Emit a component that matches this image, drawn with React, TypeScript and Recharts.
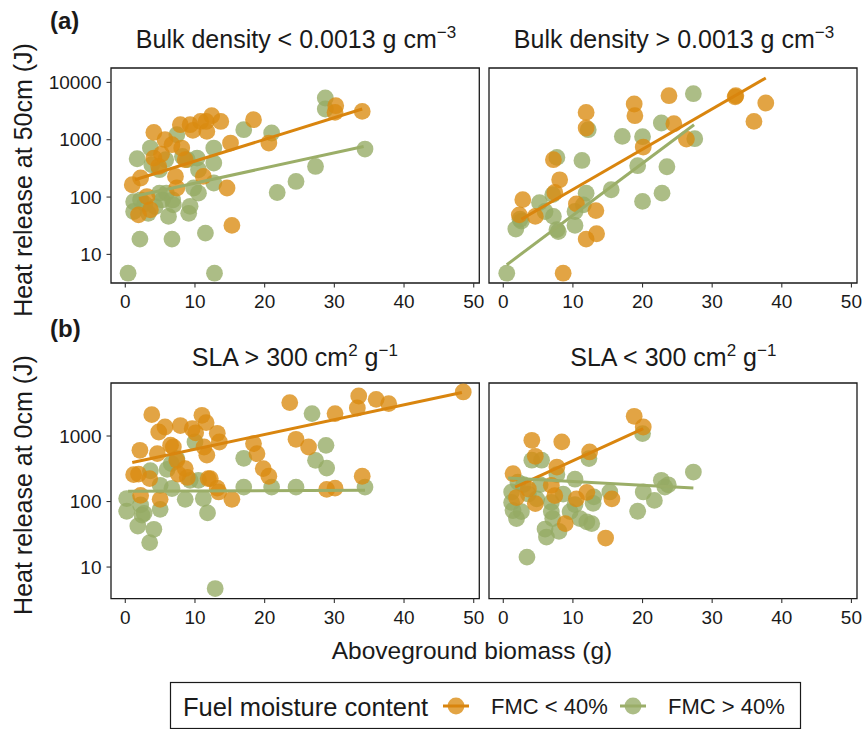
import React from 'react';
import { ScatterChart, Scatter, XAxis, YAxis, ReferenceArea } from 'recharts';

const FONT = '"Liberation Sans", Arial, Helvetica, sans-serif';
const INK = '#1a1a1a';

// ---------- shared axes ----------
const xTicks = [0, 10, 20, 30, 40, 50];
const xDomain: [number, number] = [-2.05, 50.8];
const yTicksTop = [10, 100, 1000, 10000];
const yDomainTop: [number, number] = [3.17, 17820];
const yTicksBottom = [10, 100, 1000];
const yDomainBottom: [number, number] = [3.3, 6442];

// ---------- series ----------
const seriesNames = ['FMC < 40%', 'FMC > 40%'];
const pointColors = ['#DA8A10', '#95AA64'];
const lineColors = ['#D9850E', '#9BAE68'];

// (a) Bulk density < 0.0013 g cm-3
const aLowOrangeX = [15.3, 14.6, 34.0, 30.2, 30.1, 20.6, 18.4, 15.1, 12.4, 13.7, 11.7, 11.6, 10.8, 9.7, 9.3, 7.9, 4.1, 5.7, 6.7, 8.1, 8.6, 4.1, 4.8, 7.2, 7.4, 11.2, 1.0, 2.2, 1.9, 3.1, 3.6, 5.2];
const aLowOrangeY = [32, 144, 3118, 3917, 2992, 875, 2234, 875, 2625, 2083, 1397, 2083, 2083, 1453, 1828, 1828, 1340, 1000, 818, 716, 448, 479, 342, 229, 144, 229, 164, 215, 49, 102, 60, 560];
const aLowGreenX = [0.4, 12.8, 2.1, 6.7, 11.5, 21.8, 24.5, 27.3, 34.4, 28.7, 28.7, 21.0, 17.0, 7.4, 1.7, 12.7, 12.7, 10.3, 10.5, 12.7, 9.8, 10.5, 9.3, 9.1, 6.2, 6.9, 1.2, 3.6, 3.8, 4.9, 5.8, 8.2, 8.9, 4.9, 5.3, 4.3, 2.2, 5.9, 3.3, 2.8, 1.2, 6.8];
const aLowGreenY = [4.7, 4.7, 18.5, 18.5, 23.5, 120, 187, 342, 688, 5345, 3435, 1310, 1496, 1222, 466, 716, 392, 479, 299, 176, 144, 117, 69, 52, 46, 73, 56, 716, 366, 300, 448, 510, 448, 117, 89, 68, 89, 117, 52, 76, 83, 89];
const aLowOrangeLineX = [1.4, 34.0];
const aLowOrangeLineY = [200, 3435];
const aLowGreenLineX = [1.2, 34.2];
const aLowGreenLineY = [102, 764];

// (a) Bulk density > 0.0013 g cm-3
const aHighOrangeX = [8.6, 2.8, 2.3, 4.6, 7.4, 8.1, 7.2, 10.5, 13.3, 11.9, 13.4, 11.9, 11.9, 18.8, 18.9, 20.1, 23.8, 24.5, 26.3, 33.4, 33.3, 36.0, 37.7];
const aHighOrangeY = [4.7, 90, 49, 46, 120, 200, 448, 76, 58, 18.5, 22.9, 2992, 1600, 4200, 2625, 745, 5860, 1900, 1025, 5860, 5600, 2085, 4370];
const aHighGreenX = [0.5, 1.8, 2.4, 2.6, 5.2, 6.0, 7.2, 7.1, 7.7, 7.7, 7.9, 10.3, 10.3, 11.3, 11.9, 11.5, 12.2, 15.5, 17.1, 20.0, 19.3, 20.0, 22.7, 23.5, 22.8, 27.3, 27.5];
const aHighGreenY = [4.7, 27.7, 41, 38, 80, 56, 46, 110, 491, 27, 25, 56, 32, 435, 117, 73, 1496, 134, 1142, 1128, 352, 84, 1956, 338, 117, 6350, 1041];
const aHighOrangeLineX = [2.6, 37.7];
const aHighOrangeLineY = [41, 11900];
const aHighGreenLineX = [0.5, 27.4];
const aHighGreenLineY = [6.6, 1828];

// (b) SLA > 300 cm2 g-1
const bHighOrangeX = [48.5, 23.6, 33.5, 33.3, 36.0, 37.8, 30.1, 24.5, 26.3, 18.4, 18.9, 19.8, 20.6, 34.0, 28.9, 30.1, 15.3, 13.4, 13.2, 12.2, 3.8, 4.8, 5.7, 7.9, 9.6, 10.1, 11.0, 11.6, 13.2, 13.5, 2.1, 4.6, 6.5, 6.9, 11.3, 11.7, 7.4, 8.6, 1.2, 1.9, 3.5, 7.6, 8.9, 11.9, 2.2, 5.0];
const bHighOrangeY = [4700, 3236, 4083, 2675, 3630, 3126, 2200, 891, 680, 766, 538, 318, 243, 243, 153, 160, 108, 140, 160, 224, 2120, 1151, 1372, 1445, 1290, 1120, 2070, 1600, 1100, 810, 605, 538, 725, 680, 680, 510, 425, 318, 257, 262, 224, 262, 233, 224, 124, 108];
const bHighGreenX = [12.9, 3.5, 4.1, 1.8, 0.2, 0.2, 2.2, 2.4, 2.7, 5.0, 8.6, 11.2, 11.8, 5.0, 6.7, 6.0, 3.6, 7.4, 6.6, 9.3, 10.5, 10.0, 17.0, 21.0, 24.5, 34.4, 17.0, 26.8, 28.8, 27.3, 28.9];
const bHighGreenY = [4.7, 23.6, 37.7, 42.3, 71, 111, 89, 62, 66, 76, 108, 111, 67, 177, 158, 309, 295, 452, 380, 211, 211, 810, 166, 166, 166, 166, 457, 2200, 721, 425, 324];
const bHighOrangeLineX = [1.0, 48.3];
const bHighOrangeLineY = [393, 4600];
const bHighGreenLineX = [0.4, 34.4];
const bHighGreenLineY = [143, 148];

// (b) SLA < 300 cm2 g-1
const bLowOrangeX = [18.8, 20.1, 4.1, 8.4, 12.4, 7.7, 4.6, 1.4, 6.9, 7.4, 3.6, 1.9, 4.6, 10.5, 12.0, 15.6, 8.9, 14.7];
const bLowOrangeY = [2000, 1372, 860, 815, 571, 336, 490, 267, 177, 123, 155, 115, 93, 110, 138, 110, 46, 27.7];
const bLowGreenX = [3.4, 6.2, 6.0, 8.0, 1.9, 1.4, 1.2, 6.9, 7.1, 9.6, 11.0, 12.7, 12.0, 19.3, 21.7, 20.1, 22.7, 23.2, 23.7, 27.3, 20.0, 12.3, 4.1, 5.5, 7.7, 10.3, 15.3, 13.0, 12.9, 2.9, 2.1, 3.6, 5.3, 4.8, 8.6, 6.9, 1.2, 2.6, 10.3];
const bLowGreenY = [14.2, 28.7, 38, 35, 55, 73, 97, 70, 55, 70, 55, 46, 49, 71, 104, 140, 211, 166, 180, 282, 1088, 452, 427, 427, 258, 219, 140, 118, 94, 181, 198, 130, 181, 110, 130, 97, 140, 70, 90];
const bLowOrangeLineX = [1.7, 20.1];
const bLowOrangeLineY = [166, 1297];
const bLowGreenLineX = [0.7, 27.3];
const bLowGreenLineY = [228, 161];

type Pt = { x: number; y: number };
const pts = (xs: number[], ys: number[]): Pt[] => xs.map((x, i) => ({ x, y: ys[i] }));

type PanelDef = {
  left: number; top: number; w: number; h: number; showY: boolean;
  yDomain: [number, number]; yTicks: number[];
  orange: Pt[]; green: Pt[]; orangeLine: Pt[]; greenLine: Pt[];
};

const dot = (color: string) => (p: any) => (
  <circle cx={p.cx} cy={p.cy} r={8.4} fill={color} fillOpacity={0.78} />
);
const noDot = () => <g />;

function Panel({ d }: { d: PanelDef }) {
  const yw = d.showY ? 80 : 0;
  const m = { top: 10, right: 10, bottom: 0, left: 10 };
  const xh = 45;
  const width = m.left + yw + d.w + m.right;
  const height = m.top + d.h + xh;
  const tickStyle = { fontSize: 19, fill: INK, fontFamily: FONT };
  return (
    <div style={{ position: 'absolute', left: d.left - yw - m.left, top: d.top - m.top }}>
      <ScatterChart width={width} height={height} margin={m}>
        <XAxis type="number" dataKey="x" domain={xDomain} allowDataOverflow ticks={xTicks} interval={0}
          axisLine={false} tickLine={{ stroke: '#333', strokeWidth: 1.1 }} tickSize={4.5} tickMargin={7}
          height={xh} tick={tickStyle} />
        <YAxis type="number" dataKey="y" scale="log" domain={d.yDomain} allowDataOverflow ticks={d.yTicks}
          interval={0} hide={!d.showY} width={yw} axisLine={false}
          tickLine={{ stroke: '#333', strokeWidth: 1.1 }} tickSize={4.5} tickMargin={5} tick={tickStyle} />
        <Scatter data={d.green} shape={dot(pointColors[1])} isAnimationActive={false} />
        <Scatter data={d.orange} shape={dot(pointColors[0])} isAnimationActive={false} />
        <Scatter data={d.orangeLine} line={{ stroke: lineColors[0], strokeWidth: 3 }} shape={noDot} isAnimationActive={false} />
        <Scatter data={d.greenLine} line={{ stroke: lineColors[1], strokeWidth: 3 }} shape={noDot} isAnimationActive={false} />
        <ReferenceArea x1={xDomain[0]} x2={xDomain[1]} y1={d.yDomain[0]} y2={d.yDomain[1]}
          fill="none" fillOpacity={0} stroke={INK} strokeWidth={1.3} ifOverflow="visible" />
      </ScatterChart>
    </div>
  );
}

const panels: PanelDef[] = [
  { left: 110.7, top: 68.3, w: 368.3, h: 215, showY: true, yDomain: yDomainTop, yTicks: yTicksTop,
    orange: pts(aLowOrangeX, aLowOrangeY), green: pts(aLowGreenX, aLowGreenY),
    orangeLine: pts(aLowOrangeLineX, aLowOrangeLineY), greenLine: pts(aLowGreenLineX, aLowGreenLineY) },
  { left: 489.3, top: 68.3, w: 368, h: 215, showY: false, yDomain: yDomainTop, yTicks: yTicksTop,
    orange: pts(aHighOrangeX, aHighOrangeY), green: pts(aHighGreenX, aHighGreenY),
    orangeLine: pts(aHighOrangeLineX, aHighOrangeLineY), greenLine: pts(aHighGreenLineX, aHighGreenLineY) },
  { left: 110.7, top: 382.7, w: 368.3, h: 215.6, showY: true, yDomain: yDomainBottom, yTicks: yTicksBottom,
    orange: pts(bHighOrangeX, bHighOrangeY), green: pts(bHighGreenX, bHighGreenY),
    orangeLine: pts(bHighOrangeLineX, bHighOrangeLineY), greenLine: pts(bHighGreenLineX, bHighGreenLineY) },
  { left: 489.3, top: 382.7, w: 368, h: 215.6, showY: false, yDomain: yDomainBottom, yTicks: yTicksBottom,
    orange: pts(bLowOrangeX, bLowOrangeY), green: pts(bLowGreenX, bLowGreenY),
    orangeLine: pts(bLowOrangeLineX, bLowOrangeLineY), greenLine: pts(bLowGreenLineX, bLowGreenLineY) },
];

const STRIP = 25;
const SUP = 17;
const SUPDY = 10;

export default function App() {
  return (
    <div style={{ position: 'absolute', left: 0, top: 0, width: 867, height: 729, background: '#fff', overflow: 'hidden' }}>
      <svg width={867} height={729} style={{ position: 'absolute', left: 0, top: 0 }} fontFamily={FONT} fill={INK}>
        <text x={50} y={29} fontSize={24} fontWeight="bold">(a)</text>
        <text x={50} y={337} fontSize={24} fontWeight="bold">(b)</text>
        <text x={296} y={48} fontSize={STRIP} textAnchor="middle">
          Bulk density {'<'} 0.0013 g cm<tspan dy={-SUPDY} fontSize={SUP}>−3</tspan>
        </text>
        <text x={674} y={48} fontSize={STRIP} textAnchor="middle">
          Bulk density {'>'} 0.0013 g cm<tspan dy={-SUPDY} fontSize={SUP}>−3</tspan>
        </text>
        <text x={294.8} y={366} fontSize={STRIP} textAnchor="middle">
          SLA {'>'} 300 cm<tspan dy={-SUPDY} fontSize={SUP}>2</tspan><tspan dy={SUPDY}> g</tspan><tspan dy={-SUPDY} fontSize={SUP}>−1</tspan>
        </text>
        <text x={673.3} y={366} fontSize={STRIP} textAnchor="middle">
          SLA {'<'} 300 cm<tspan dy={-SUPDY} fontSize={SUP}>2</tspan><tspan dy={SUPDY}> g</tspan><tspan dy={-SUPDY} fontSize={SUP}>−1</tspan>
        </text>
        <text transform="translate(32,180) rotate(-90)" fontSize={25} textAnchor="middle">Heat release at 50cm (J)</text>
        <text transform="translate(32,485) rotate(-90)" fontSize={25} textAnchor="middle">Heat release at 0cm (J)</text>
        <text x={472} y={659} fontSize={24.5} textAnchor="middle">Aboveground biomass (g)</text>
        <rect x={170.5} y={682.5} width={630} height={46} fill="none" stroke={INK} strokeWidth={1.2} />
        <text x={183} y={716} fontSize={25.5}>Fuel moisture content</text>
        {seriesNames.map((name, i) => {
          const kx = i === 0 ? 456 : 633;
          return (
            <g key={name}>
              <circle cx={kx} cy={706} r={8.4} fill={pointColors[i]} fillOpacity={0.78} />
              <line x1={kx - 13} x2={kx + 13} y1={706} y2={706} stroke={lineColors[i]} strokeWidth={3} />
              <text x={kx + 35} y={714} fontSize={22}>{name}</text>
            </g>
          );
        })}
      </svg>
      {panels.map((d, i) => <Panel key={i} d={d} />)}
    </div>
  );
}
